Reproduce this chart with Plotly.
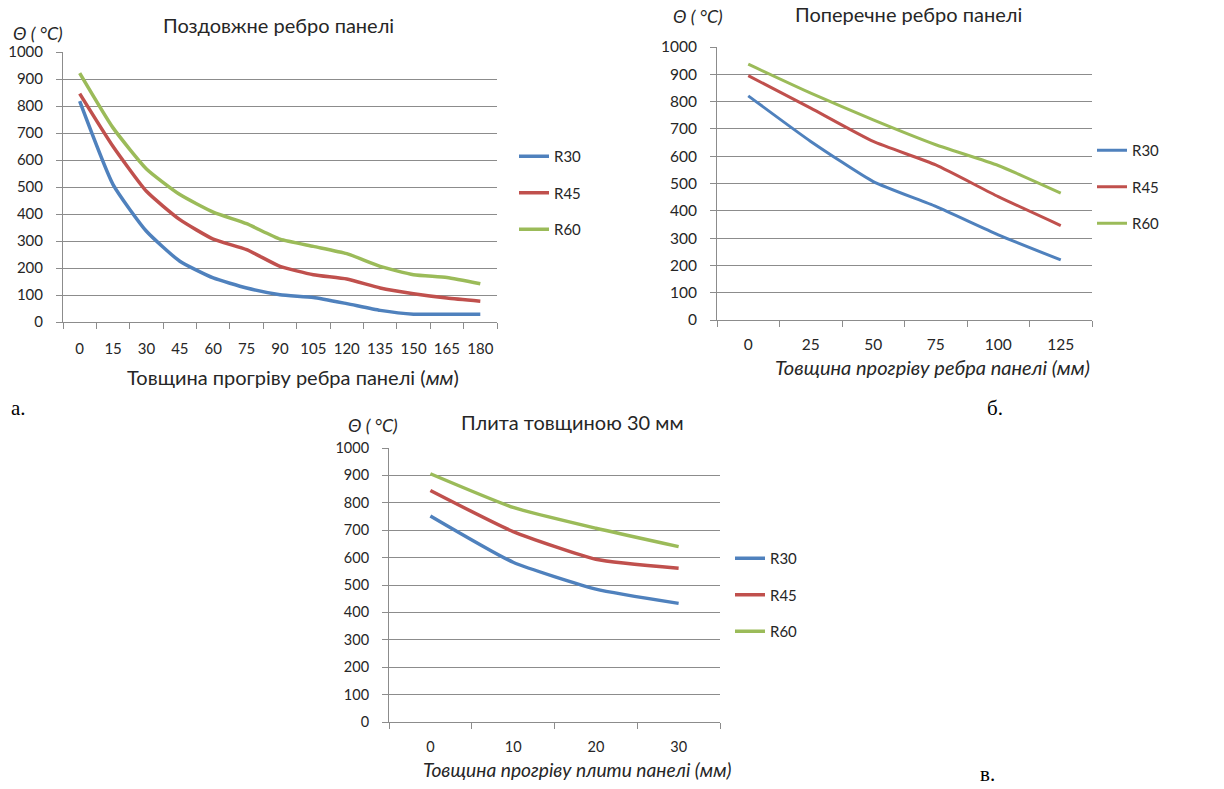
import plotly.graph_objects as go

# ---------------- data ----------------
series_names = ["R30", "R45", "R60"]
colors = ["#4F81BD", "#C0504D", "#9BBB59"]

# chart a: longitudinal rib
a_x = ["0", "15", "30", "45", "60", "75", "90", "105", "120", "135", "150", "165", "180"]
a_R30 = [818, 509, 336, 225, 163, 126, 101, 91, 68, 43, 29, 29, 29]
a_R45 = [846, 650, 484, 379, 307, 268, 206, 175, 159, 126, 105, 89, 77]
a_R60 = [922, 719, 567, 472, 407, 364, 307, 280, 253, 206, 175, 165, 142]

# chart b: transverse rib
b_x = ["0", "25", "50", "75", "100", "125"]
b_R30 = [821, 654, 507, 416, 312, 220]
b_R45 = [895, 776, 654, 568, 452, 346]
b_R60 = [937, 831, 733, 642, 566, 465]

# chart c: slab 30 mm
c_x = ["0", "10", "20", "30"]
c_R30 = [752, 583, 485, 433]
c_R45 = [845, 695, 594, 561]
c_R60 = [906, 783, 707, 640]

titles = ["Поздовжне ребро панелі", "Поперечне ребро панелі", "Плита товщиною 30 мм"]
xtitles = ["Товщина прогріву ребра панелі (<i>мм</i>)",
           "<i>Товщина прогріву ребра панелі (мм)</i>",
           "<i>Товщина прогріву плити панелі (мм)</i>"]
ylabel = "<i>Θ ( °C)</i>"
panel_labels = ["а.", "б.", "в."]

W, H = 1224, 789
FONT = "Lato, 'Open Sans', sans-serif"
TXT = "#262626"
GRID = "#8C8C8C"


def px(x):
    return x / W


def py(y):
    return 1 - y / H


fig = go.Figure()

panels = [
    dict(x=a_x, ys=[a_R30, a_R45, a_R60], box=(63, 497, 52, 322), width=3.5, ls=13,
         legend_xy=(514, 140), fs=15, xfs=20, xt=(293, 377), tt=(278, 25), yl=(38, 33)),
    dict(x=b_x, ys=[b_R30, b_R45, b_R60], box=(717, 1092, 47, 320), width=3, ls=10,
         legend_xy=(1092, 134), fs=15.5, xfs=20, xt=(932, 367), tt=(908, 14), yl=(698, 16)),
    dict(x=c_x, ys=[c_R30, c_R45, c_R60], box=(389, 720, 448, 722), width=3.5, ls=12,
         legend_xy=(730, 542), fs=14.5, xfs=19.2, xt=(577, 769), tt=(572, 422), yl=(373, 425)),
]

annotations = []
for i, p in enumerate(panels):
    sfx = "" if i == 0 else str(i + 1)
    leg = "legend" if i == 0 else f"legend{i + 1}"
    for k, name in enumerate(series_names):
        fig.add_trace(go.Scatter(
            x=p["x"], y=p["ys"][k], name=name, mode="lines",
            line=dict(color=colors[k], width=p["width"], shape="spline", smoothing=0.5),
            xaxis="x" + sfx, yaxis="y" + sfx, legend=leg, legendgroup=f"{i}{k}",
        ))
    x0, x1, y0, y1 = p["box"]
    fs = p["fs"]
    n = len(p["x"])
    fig.layout["xaxis" + sfx] = dict(
        domain=[px(x0), px(x1)], anchor="y" + sfx, type="category",
        range=[-0.5, n - 0.5], automargin=False, tickangle=0,
        tickson="boundaries", ticks="outside", ticklen=6, tickcolor=GRID,
        showline=True, linecolor=GRID, linewidth=1, showgrid=False,
        tickfont=dict(family=FONT, size=fs, color=TXT), ticklabelstandoff=p["ls"],
        fixedrange=True,
    )
    fig.layout["yaxis" + sfx] = dict(
        domain=[py(y1), py(y0)], anchor="x" + sfx, range=[0, 1000], dtick=100,
        automargin=False,
        ticks="outside", ticklen=6, tickcolor=GRID,
        showline=True, linecolor=GRID, linewidth=1,
        showgrid=True, gridcolor=GRID, gridwidth=1, zeroline=False,
        tickfont=dict(family=FONT, size=fs, color=TXT), ticklabelstandoff=10,
        fixedrange=True,
    )
    lx, ly = p["legend_xy"]
    fig.layout[leg] = dict(
        x=px(lx), y=py(ly), xanchor="left", yanchor="top",
        font=dict(family=FONT, size=15, color=TXT), bgcolor="rgba(0,0,0,0)",
        tracegroupgap=14, itemwidth=30,
    )
    # chart title, y label, x-axis title
    annotations.append(dict(text=titles[i], x=px(p["tt"][0]), y=py(p["tt"][1]),
                            xref="paper", yref="paper", xanchor="center", yanchor="middle",
                            showarrow=False, font=dict(family=FONT, size=20, color=TXT)))
    annotations.append(dict(text=ylabel, x=px(p["yl"][0]), y=py(p["yl"][1]),
                            xref="paper", yref="paper", xanchor="center", yanchor="middle",
                            showarrow=False, font=dict(family=FONT, size=18, color=TXT)))
    annotations.append(dict(text=xtitles[i], x=px(p["xt"][0]), y=py(p["xt"][1]),
                            xref="paper", yref="paper", xanchor="center", yanchor="middle",
                            showarrow=False, font=dict(family=FONT, size=p["xfs"], color=TXT)))

panel_pos = [(18, 408), (995, 408), (987, 774)]
for lab, (x, y) in zip(panel_labels, panel_pos):
    annotations.append(dict(text=lab, x=px(x), y=py(y), xref="paper", yref="paper",
                            xanchor="center", yanchor="middle", showarrow=False,
                            font=dict(family="Liberation Serif, serif", size=21, color="#000")))

fig.update_layout(
    width=W, height=H, margin=dict(l=0, r=0, t=0, b=0, autoexpand=False),
    paper_bgcolor="white", plot_bgcolor="white",
    annotations=annotations, showlegend=True,
)

fig.write_html("out.html", config={"displayModeBar": False},
               post_script="document.body.style.margin='0';")
